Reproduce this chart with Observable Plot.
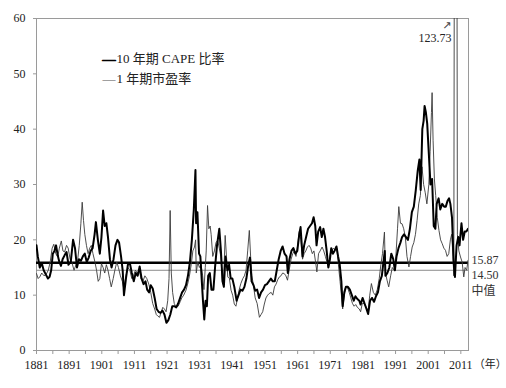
<!DOCTYPE html>
<html>
<head>
<meta charset="utf-8">
<script src="https://cdn.jsdelivr.net/npm/d3@7"></script>
<script src="https://cdn.jsdelivr.net/npm/@observablehq/plot@0.6"></script>
<style>
  html, body { margin: 0; padding: 0; background: #fff; }
  #chart { width: 506px; height: 388px; }
</style>
</head>
<body>
<div id="chart"></div>
<script>
// ---- data ----
const capeYears = [1881.0,1881.4,1882.0,1882.6,1883.2,1883.8,1884.5,1885.0,1885.5,1886.0,1886.5,1887.0,1887.5,1888.0,1888.5,1889.0,1889.6,1890.2,1890.8,1891.5,1892.2,1892.8,1893.4,1894.0,1894.6,1895.2,1895.8,1896.4,1897.0,1897.6,1898.2,1898.8,1899.2,1899.8,1900.4,1900.9,1901.4,1901.9,1902.4,1902.9,1903.5,1904.0,1904.6,1905.2,1905.8,1906.3,1906.9,1907.4,1907.8,1908.4,1909.0,1909.6,1910.2,1910.8,1911.4,1912.0,1912.6,1913.2,1913.8,1914.4,1914.9,1915.5,1916.0,1916.6,1917.2,1917.8,1918.4,1919.0,1919.6,1920.2,1920.8,1921.4,1922.0,1922.6,1923.2,1923.8,1924.4,1925.0,1925.6,1926.2,1926.8,1927.4,1928.0,1928.6,1929.2,1929.7,1929.9,1930.3,1930.8,1931.2,1931.7,1932.0,1932.4,1932.8,1933.2,1933.6,1934.1,1934.6,1935.2,1935.7,1936.3,1937.0,1937.5,1938.0,1938.4,1938.9,1939.5,1940.0,1940.5,1941.0,1941.6,1942.3,1942.9,1943.5,1944.1,1944.7,1945.3,1945.9,1946.4,1946.9,1947.5,1948.0,1948.6,1949.2,1949.8,1950.4,1951.0,1951.6,1952.2,1952.8,1953.4,1954.0,1954.6,1955.2,1955.8,1956.4,1957.0,1957.6,1958.0,1958.5,1959.1,1959.7,1960.3,1960.9,1961.5,1961.9,1962.5,1963.0,1963.6,1964.2,1964.8,1965.4,1965.9,1966.4,1966.8,1967.3,1967.9,1968.4,1968.9,1969.4,1969.9,1970.4,1970.9,1971.3,1971.8,1972.3,1972.9,1973.4,1973.9,1974.4,1974.8,1975.3,1975.8,1976.4,1977.0,1977.6,1978.2,1978.7,1979.3,1979.9,1980.3,1980.9,1981.5,1982.1,1982.6,1983.2,1983.8,1984.4,1985.0,1985.6,1986.2,1986.8,1987.4,1987.7,1987.9,1988.5,1989.1,1989.7,1990.3,1990.8,1991.3,1991.9,1992.5,1993.0,1993.6,1994.2,1994.8,1995.4,1996.0,1996.6,1997.2,1997.8,1998.3,1998.7,1999.2,1999.6,1999.9,2000.3,2000.7,2001.2,2001.7,2002.2,2002.7,2003.2,2003.6,2004.2,2004.7,2005.3,2005.9,2006.4,2006.9,2007.4,2007.8,2008.3,2008.8,2009.2,2009.7,2010.2,2010.6,2011.2,2011.7,2012.2,2012.7,2013.2];
const capeValues = [19.0,17.0,15.0,15.8,14.5,13.8,13.0,13.3,14.5,17.5,18.0,19.0,17.2,16.0,15.3,16.5,17.2,17.8,15.5,16.0,20.0,18.5,15.0,16.5,16.2,17.0,17.5,16.0,16.8,18.0,18.5,21.0,23.2,20.0,17.5,20.5,25.3,22.5,23.0,20.5,16.5,15.0,16.5,19.0,20.0,19.5,17.0,14.5,10.0,13.0,15.5,15.8,14.0,12.5,14.0,13.5,15.2,13.0,12.0,12.5,11.0,10.5,11.8,11.2,9.5,7.5,7.0,6.8,7.2,6.5,5.0,5.5,6.5,8.0,8.0,7.8,8.5,9.5,10.5,11.0,11.8,13.5,16.0,20.0,25.5,32.6,23.0,25.0,17.5,17.0,12.0,9.0,5.6,9.0,8.0,13.5,14.0,11.0,11.0,15.0,19.0,22.0,18.0,12.5,11.5,17.0,14.5,15.5,13.0,13.0,11.5,9.0,10.0,11.0,10.8,11.5,13.0,15.5,16.8,12.5,11.8,10.8,11.0,9.5,10.5,11.0,11.8,12.0,12.5,13.0,12.5,12.5,14.5,16.5,18.0,18.8,17.5,17.0,14.0,16.5,18.0,18.5,17.5,18.0,21.0,22.3,17.0,19.0,20.5,22.0,22.5,23.0,24.1,22.5,19.0,21.5,22.3,20.5,22.0,20.5,18.0,15.0,16.5,18.5,17.5,18.0,18.8,17.0,15.5,12.5,8.0,10.5,11.5,11.5,11.0,10.0,9.0,9.8,9.3,9.0,8.3,9.5,8.5,7.5,6.6,9.0,9.5,8.8,9.8,10.5,12.5,13.5,16.5,18.0,13.5,14.0,15.0,17.5,16.5,14.5,17.0,18.5,19.5,20.5,21.0,20.5,20.0,22.0,25.0,26.0,29.0,32.5,34.5,29.0,40.0,41.5,44.2,43.0,41.0,35.5,30.0,31.0,22.5,22.0,26.5,27.5,25.5,26.5,26.0,26.0,27.0,27.5,26.5,24.0,16.0,13.3,19.0,20.5,19.0,23.0,20.0,21.5,21.5,22.0];

const peYears = [1881.0,1881.5,1882.0,1882.6,1883.3,1884.0,1884.6,1885.2,1885.8,1886.3,1886.9,1887.5,1888.0,1888.6,1889.1,1889.6,1890.2,1890.7,1891.3,1891.8,1892.5,1893.1,1893.6,1894.1,1894.6,1895.0,1895.4,1895.8,1896.3,1896.8,1897.3,1897.8,1898.3,1898.9,1899.4,1899.9,1900.4,1900.9,1901.4,1901.9,1902.4,1902.9,1903.4,1903.9,1904.5,1905.0,1905.6,1906.1,1906.7,1907.3,1907.8,1908.4,1909.0,1909.6,1910.2,1910.7,1911.3,1911.9,1912.5,1913.0,1913.6,1914.2,1914.8,1915.4,1916.0,1916.6,1917.2,1917.7,1918.2,1918.7,1919.2,1919.7,1920.2,1920.7,1921.2,1921.6,1921.95,1922.3,1922.7,1923.2,1923.8,1924.4,1925.0,1925.5,1926.1,1926.8,1927.3,1927.8,1928.4,1928.9,1929.4,1929.75,1929.95,1930.4,1930.9,1931.4,1931.9,1932.3,1932.7,1933.0,1933.4,1933.8,1934.2,1934.5,1935.0,1935.5,1936.0,1936.5,1937.0,1937.5,1938.0,1938.4,1938.8,1939.2,1939.6,1940.1,1940.6,1941.1,1941.6,1942.1,1942.6,1943.1,1943.6,1944.2,1944.7,1945.2,1945.7,1946.2,1946.6,1947.0,1947.4,1948.0,1948.6,1949.3,1949.8,1950.3,1950.8,1951.3,1951.8,1952.3,1952.9,1953.4,1953.9,1954.4,1954.9,1955.4,1955.9,1956.4,1956.9,1957.4,1957.9,1958.4,1959.0,1959.5,1960.0,1960.5,1961.0,1961.5,1962.0,1962.5,1963.0,1963.5,1964.0,1964.5,1965.0,1965.5,1966.0,1966.5,1966.9,1967.4,1967.9,1968.5,1969.0,1969.5,1970.0,1970.5,1971.0,1971.5,1972.0,1972.5,1973.0,1973.5,1974.0,1974.5,1974.8,1975.2,1975.7,1976.2,1976.8,1977.3,1977.8,1978.3,1978.8,1979.3,1979.9,1980.3,1980.8,1981.4,1982.0,1982.6,1983.1,1983.6,1984.2,1984.8,1985.4,1986.0,1986.5,1987.0,1987.6,1987.9,1988.4,1988.9,1989.5,1990.0,1990.6,1991.1,1991.6,1992.0,1992.5,1993.0,1993.5,1994.0,1994.5,1995.1,1995.6,1996.1,1996.6,1997.1,1997.6,1998.1,1998.6,1999.1,1999.6,2000.1,2000.6,2001.2,2001.6,2002.0,2002.2,2002.5,2002.9,2003.3,2003.8,2004.3,2004.8,2005.3,2005.8,2006.3,2006.8,2007.3,2007.8,2008.2,2008.6,2008.85,2009.0,2009.35,2009.55,2009.8,2009.95,2010.4,2010.9,2011.4,2011.9,2012.3,2012.8,2013.2];
const peValues = [13.9,13.0,13.3,14.0,13.5,13.8,14.5,16.0,18.5,19.2,17.5,16.9,18.5,19.8,18.0,17.8,19.0,18.5,16.5,16.0,14.5,15.5,16.3,19.0,23.0,26.8,23.5,21.0,19.0,17.5,18.5,19.0,17.5,16.0,14.5,12.5,13.0,15.7,15.0,14.0,15.5,14.5,13.0,11.5,13.0,14.5,16.0,15.0,13.5,12.5,11.0,13.5,15.0,14.5,13.0,13.5,14.5,14.0,14.5,13.0,12.5,13.5,13.0,12.0,10.5,8.5,7.5,6.5,6.2,6.0,7.0,7.8,7.5,7.0,9.0,13.0,25.3,14.0,10.5,8.5,7.8,8.0,8.8,9.5,10.0,10.9,12.0,13.3,15.5,18.0,18.7,20.0,14.0,16.0,15.0,15.5,13.5,11.0,15.0,18.0,26.2,22.0,22.5,21.0,17.0,18.0,19.5,19.9,18.5,16.9,12.0,14.0,20.8,17.0,13.3,13.0,10.9,10.0,8.4,8.0,9.5,11.0,12.1,13.0,13.5,14.5,18.0,21.7,17.0,13.5,12.0,9.5,8.5,6.0,6.5,7.0,8.4,9.5,10.0,10.3,10.5,10.0,11.5,12.0,12.8,13.3,13.5,14.0,13.9,13.5,12.7,14.5,16.5,17.5,18.0,17.0,19.0,21.5,20.0,16.5,17.5,18.0,18.7,19.0,18.5,17.5,18.0,16.0,14.2,17.5,18.0,18.7,18.0,17.0,16.0,15.0,17.5,18.1,18.5,18.1,18.5,15.5,12.5,9.5,7.5,9.5,11.5,11.5,10.5,9.5,8.5,8.0,8.3,7.8,7.5,7.0,8.5,8.5,7.8,7.2,10.0,12.1,10.5,10.0,11.0,13.0,15.5,17.5,21.4,14.0,12.7,11.5,13.5,15.0,14.5,17.0,22.0,26.0,23.0,22.9,22.0,20.5,17.0,15.1,17.0,18.7,19.5,21.0,23.5,26.5,28.0,33.2,30.0,28.5,26.5,30.0,36.0,43.0,46.6,38.0,31.0,28.0,24.0,21.7,20.0,19.3,18.5,18.1,17.0,17.5,20.0,21.0,17.0,13.5,70.0,123.73,120.0,80.0,21.0,18.0,16.9,16.0,13.3,15.0,14.5,16.3];

const medianValues = [15.87, 14.50];
const medianLabels = ["15.87", "14.50"];
const medianNote = "中值";
const peakLabel = "123.73";
const seriesNames = ["10 年期 CAPE 比率", "1 年期市盈率"];
const xLabelYears = [1881,1891,1901,1911,1921,1931,1941,1951,1961,1971,1981,1991,2001,2011];
const yTicks = [0,10,20,30,40,50,60];
const xUnit = "（年）";

// ---- build tables ----
const cape = capeYears.map((t, i) => ({t, v: capeValues[i]}));
const pe = peYears.map((t, i) => ({t, v: peValues[i]}));
const peak = [{t: peYears[peValues.indexOf(d3.max(peValues))], v: 60}];
const xTicks = xLabelYears.flatMap(y => [y, y + 5]).filter(y => y <= 2013);
const refs = medianValues.map((v, i) => ({v, label: medianLabels[i]}));

const font = "'Liberation Serif', 'Noto Sans CJK SC', serif";
const chart = Plot.plot({
  width: 506,
  height: 388,
  marginLeft: 36,
  marginRight: 38,
  marginTop: 18,
  marginBottom: 38,
  style: {fontFamily: font, fontSize: "12px", color: "#222", background: "#fff", overflow: "visible"},
  x: {domain: [1881, 2013.35], label: null},
  y: {domain: [0, 60], label: null},
  marks: [
    Plot.frame({stroke: "#9a9a9a"}),
    Plot.axisX({ticks: xTicks, tickSize: 4, tickPadding: 6, stroke: "#9a9a9a",
      tickFormat: d => xLabelYears.includes(d) ? String(d) : "", fontSize: 12, fill: "#222"}),
    Plot.axisY({ticks: yTicks, tickSize: 3, tickPadding: 8, stroke: "#9a9a9a", fontSize: 12, fill: "#222"}),
    Plot.ruleY([medianValues[1]], {stroke: "#8a8a8a", strokeWidth: 1}),
    Plot.ruleY([medianValues[0]], {stroke: "#000", strokeWidth: 2.6}),
    Plot.line(pe, {x: "t", y: "v", stroke: "#3a3a3a", strokeWidth: 0.9, clip: true}),
    Plot.line(cape, {x: "t", y: "v", stroke: "#000", strokeWidth: 2, clip: true}),
    // median labels at right
    Plot.text([refs[0]], {frameAnchor: "right", y: "v", text: "label", textAnchor: "start", dx: 3, dy: -3, fontSize: 12, fill: "#333"}),
    Plot.text([refs[1]], {frameAnchor: "right", y: "v", text: "label", textAnchor: "start", dx: 3, dy: 5, fontSize: 12, fill: "#333"}),
    Plot.text([refs[1]], {frameAnchor: "right", y: "v", text: () => medianNote, textAnchor: "start", dx: 3, dy: 21, fontSize: 12, fill: "#333"}),
    // x unit
    Plot.text([xLabelYears[xLabelYears.length - 1]], {x: d => d, frameAnchor: "bottom", text: () => xUnit, textAnchor: "start", dx: 13, dy: 17, fontSize: 11, fill: "#222"}),
    // peak annotation
    Plot.text(peak, {x: "t", y: "v", text: () => peakLabel, textAnchor: "end", dx: -4, dy: 20, fontSize: 12, fill: "#222"}),
    Plot.text(peak, {x: "t", y: "v", text: () => "↗", textAnchor: "end", dx: -4, dy: 7, fontSize: 11, fill: "#444", fontFamily: "DejaVu Sans"}),
    // legend
    Plot.text([0], {frameAnchor: "top-left", text: () => "—", dx: 66, dy: 35, textAnchor: "start", fontSize: 13, fill: "#000", stroke: "#000", strokeWidth: 1.1}),
    Plot.text([0], {frameAnchor: "top-left", text: () => seriesNames[0], dx: 80, dy: 35, textAnchor: "start", fontSize: 13, fill: "#222"}),
    Plot.text([0], {frameAnchor: "top-left", text: () => "—", dx: 66, dy: 55, textAnchor: "start", fontSize: 13, fill: "#555"}),
    Plot.text([0], {frameAnchor: "top-left", text: () => seriesNames[1], dx: 80, dy: 55, textAnchor: "start", fontSize: 13, fill: "#222"})
  ]
});
document.getElementById("chart").appendChild(chart);
</script>
</body>
</html>
